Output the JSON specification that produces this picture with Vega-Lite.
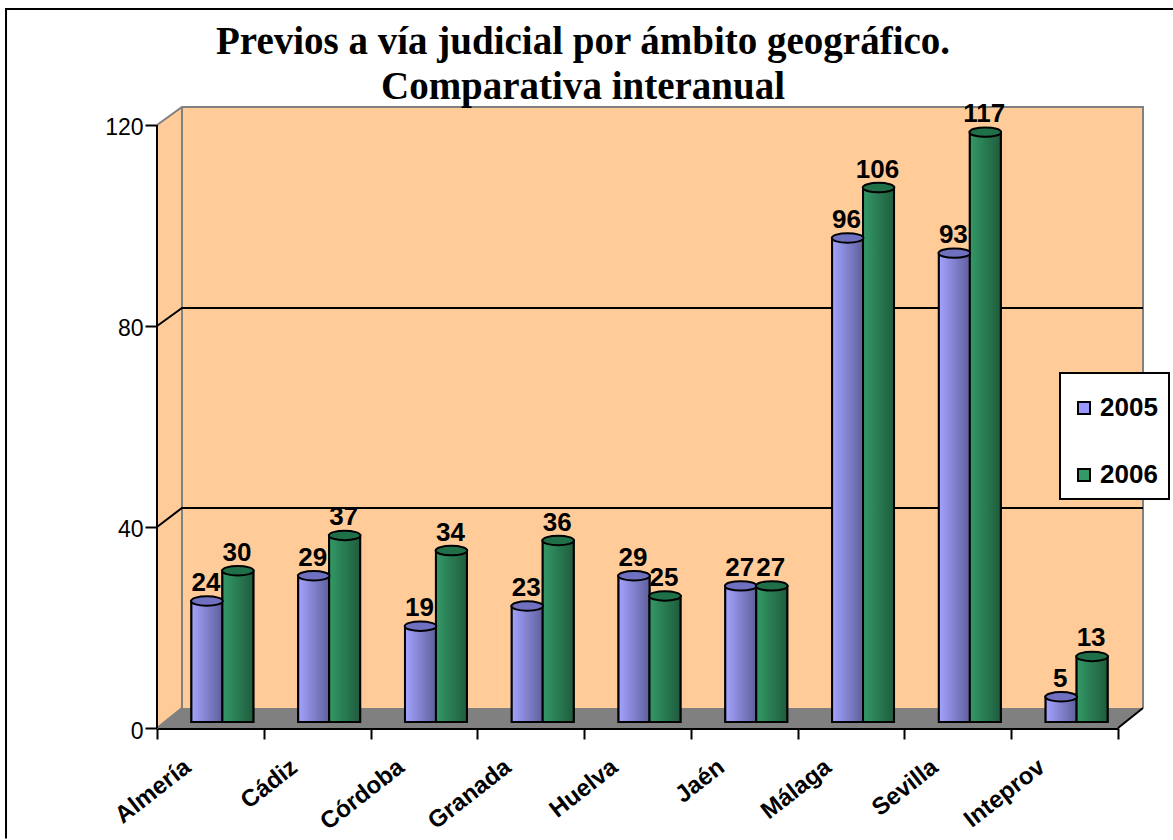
{"$schema":"https://vega.github.io/schema/vega-lite/v6.json","width":986,"height":622,"autosize":"none","padding":{"left":157,"top":106,"right":30,"bottom":112},"background":"white",
"title":{"text":["Previos a vía judicial por ámbito geográfico.","Comparativa interanual"],"font":"Liberation Serif","fontSize":39,"fontWeight":"bold","color":"black","anchor":"middle","frame":"group","dx":-67,"offset":-102,"lineHeight":45},
"datasets":{"bars":[
{"c":"Almería","year":"2005","v":24},{"c":"Almería","year":"2006","v":30},
{"c":"Cádiz","year":"2005","v":29},{"c":"Cádiz","year":"2006","v":37},
{"c":"Córdoba","year":"2005","v":19},{"c":"Córdoba","year":"2006","v":34},
{"c":"Granada","year":"2005","v":23},{"c":"Granada","year":"2006","v":36},
{"c":"Huelva","year":"2005","v":29},{"c":"Huelva","year":"2006","v":25},
{"c":"Jaén","year":"2005","v":27},{"c":"Jaén","year":"2006","v":27},
{"c":"Málaga","year":"2005","v":96},{"c":"Málaga","year":"2006","v":106},
{"c":"Sevilla","year":"2005","v":93},{"c":"Sevilla","year":"2006","v":117},
{"c":"Inteprov","year":"2005","v":5},{"c":"Inteprov","year":"2006","v":13}],
"walls":[
{"p":"wall","x":0,"y":120,"y2":0},{"p":"wall","x":0.234,"y":123.6,"y2":3.98},{"p":"wall","x":9.234,"y":123.6,"y2":3.98},
{"p":"floor","x":0,"y":0,"y2":0},{"p":"floor","x":0.234,"y":3.98,"y2":0},{"p":"floor","x":9,"y":3.98,"y2":0},{"p":"floor","x":9.234,"y":3.98,"y2":3.98}],
"edges":[
{"id":"g40","x":0,"y":40,"o":1},{"id":"g40","x":0.234,"y":43.8,"o":2},{"id":"g40","x":9.234,"y":43.8,"o":3},
{"id":"g80","x":0,"y":80,"o":1},{"id":"g80","x":0.234,"y":83.6,"o":2},{"id":"g80","x":9.234,"y":83.6,"o":3},
{"id":"left","x":0,"y":0,"o":1},{"id":"left","x":0,"y":120,"o":2},
{"id":"fr","x":9,"y":0,"o":1},{"id":"fr","x":9.234,"y":3.98,"o":2},
{"id":"frame","x":-1.414,"y":-22,"o":1},{"id":"frame","x":-1.414,"y":143.1,"o":2},{"id":"frame","x":10.5,"y":143.1,"o":3}],
"gray":[
{"id":"top","x":0,"y":120,"o":1},{"id":"top","x":0.234,"y":123.6,"o":2},{"id":"top","x":9.234,"y":123.6,"o":3},{"id":"top","x":9.234,"y":3.98,"o":4},
{"id":"in","x":0.234,"y":123.6,"o":1},{"id":"in","x":0.234,"y":3.98,"o":2},{"id":"in","x":0,"y":0,"o":3}]},
"layer":[
{"data":{"name":"walls"},"transform":[{"filter":"datum.p==='wall'"}],"mark":{"type":"area","color":"#ffcc99"},
"encoding":{"x":{"field":"x","type":"quantitative","scale":{"domain":[0,9.234],"nice":false,"zero":false},"axis":null},
"y":{"field":"y","type":"quantitative","scale":{"domain":[0,123.78],"nice":false},"axis":{"values":[0,40,80,120],"title":null,"grid":false,"domain":false,"tickSize":12,"tickColor":"black","tickWidth":2,"labelFont":"Liberation Sans","labelFontSize":23,"labelColor":"black","labelPadding":2,"labelOffset":3}},"y2":{"field":"y2"}}},
{"data":{"name":"walls"},"transform":[{"filter":"datum.p==='floor'"}],"mark":{"type":"area","color":"#808080"},
"encoding":{"x":{"field":"x","type":"quantitative","scale":{"domain":[0,9.234],"nice":false,"zero":false},"axis":null},
"y":{"field":"y","type":"quantitative","scale":{"domain":[0,123.78],"nice":false},"axis":null},"y2":{"field":"y2"}}},
{"data":{"name":"gray"},"mark":{"type":"line","color":"#808080","strokeWidth":2,"clip":false},
"encoding":{"x":{"field":"x","type":"quantitative","scale":{"domain":[0,9.234],"nice":false,"zero":false},"axis":null},
"y":{"field":"y","type":"quantitative","scale":{"domain":[0,123.78],"nice":false},"axis":null},"detail":{"field":"id"},"order":{"field":"o"}}},
{"data":{"name":"edges"},"mark":{"type":"line","color":"black","strokeWidth":2,"clip":false},
"encoding":{"x":{"field":"x","type":"quantitative","scale":{"domain":[0,9.234],"nice":false,"zero":false},"axis":null},
"y":{"field":"y","type":"quantitative","scale":{"domain":[0,123.78],"nice":false},"axis":null},"detail":{"field":"id"},"order":{"field":"o"}}},
{"data":{"name":"bars"},"mark":{"type":"tick","opacity":0},
"encoding":{"x":{"field":"c","type":"nominal","sort":null,"scale":{"range":[0,961],"paddingInner":0,"paddingOuter":0},"axis":{"title":null,"bandPosition":0,"tickBand":"extent","tickSize":11,"tickWidth":2,"tickColor":"black","domainColor":"black","domainWidth":3,"labelAngle":-38,"labelAlign":"right","labelBaseline":"middle","labelOffset":-23,"labelPadding":25,"labelFont":"Liberation Sans","labelFontWeight":"bold","labelFontSize":24,"labelColor":"black","labelOverlap":false}},
"y":{"value":622}}},
{"data":{"name":"bars"},"mark":{"type":"bar","stroke":"black","strokeWidth":2},
"encoding":{"x":{"field":"c","type":"nominal","sort":null,"scale":{"range":[12,973],"paddingInner":0.42,"paddingOuter":0.21},"axis":null},
"xOffset":{"field":"year","type":"nominal"},
"y":{"field":"v","type":"quantitative","scale":{"domain":[0,120],"range":[616,11],"nice":false},"axis":null},
"color":{"field":"year","type":"nominal","scale":{"domain":["2005","2006"],"range":["#9999ff","#339966"]},
"legend":{"title":"\u00a0","titleFontSize":1,"titlePadding":10,"orient":"none","legendX":903,"legendY":267,"fillColor":"white","strokeColor":"black","padding":11,"symbolType":"square","symbolSize":144,"symbolStrokeColor":"black","symbolStrokeWidth":2,"labelFont":"Liberation Sans","labelFontWeight":"bold","labelFontSize":26,"labelColor":"black","labelOffset":3,"rowPadding":41}}}},
{"data":{"name":"bars"},"transform":[{"filter":"datum.year==='2005'"}],"mark":{"type":"bar","stroke":"black","strokeWidth":2,"fill":{"gradient":"linear","x1":0,"x2":1,"y1":0,"y2":0,"stops":[{"offset":0,"color":"#a3a3ff"},{"offset":1,"color":"#5f5f9c"}]}},
"encoding":{"x":{"field":"c","type":"nominal","sort":null,"scale":{"domain":["Almería","Cádiz","Córdoba","Granada","Huelva","Jaén","Málaga","Sevilla","Inteprov"],"range":[12,973],"paddingInner":0.42,"paddingOuter":0.21},"axis":null},
"xOffset":{"field":"year","type":"nominal","scale":{"domain":["2005","2006"]}},
"y":{"field":"v","type":"quantitative","scale":{"domain":[0,120],"range":[616,11],"nice":false},"axis":null}}},
{"data":{"name":"bars"},"transform":[{"filter":"datum.year==='2006'"}],"mark":{"type":"bar","stroke":"black","strokeWidth":2,"fill":{"gradient":"linear","x1":0,"x2":1,"y1":0,"y2":0,"stops":[{"offset":0,"color":"#339966"},{"offset":1,"color":"#1f5c3d"}]}},
"encoding":{"x":{"field":"c","type":"nominal","sort":null,"scale":{"domain":["Almería","Cádiz","Córdoba","Granada","Huelva","Jaén","Málaga","Sevilla","Inteprov"],"range":[12,973],"paddingInner":0.42,"paddingOuter":0.21},"axis":null},
"xOffset":{"field":"year","type":"nominal","scale":{"domain":["2005","2006"]}},
"y":{"field":"v","type":"quantitative","scale":{"domain":[0,120],"range":[616,11],"nice":false},"axis":null}}},
{"data":{"name":"bars"},"transform":[{"filter":"datum.year==='2005'"}],"mark":{"type":"point","filled":true,"fill":"#7070c0","stroke":"black","strokeWidth":2,"opacity":1,"size":1000,"shape":"M-1,0A1,0.3,0,1,1,1,0A1,0.3,0,1,1,-1,0Z"},
"encoding":{"x":{"field":"c","type":"nominal","sort":null,"scale":{"domain":["Almería","Cádiz","Córdoba","Granada","Huelva","Jaén","Málaga","Sevilla","Inteprov"],"range":[12,973],"paddingInner":0.42,"paddingOuter":0.21},"axis":null},
"xOffset":{"field":"year","type":"nominal","scale":{"domain":["2005","2006"]}},
"y":{"field":"v","type":"quantitative","scale":{"domain":[0,120],"range":[616,11],"nice":false},"axis":null}}},
{"data":{"name":"bars"},"transform":[{"filter":"datum.year==='2006'"}],"mark":{"type":"point","filled":true,"fill":"#1f7048","stroke":"black","strokeWidth":2,"opacity":1,"size":1000,"shape":"M-1,0A1,0.3,0,1,1,1,0A1,0.3,0,1,1,-1,0Z"},
"encoding":{"x":{"field":"c","type":"nominal","sort":null,"scale":{"domain":["Almería","Cádiz","Córdoba","Granada","Huelva","Jaén","Málaga","Sevilla","Inteprov"],"range":[12,973],"paddingInner":0.42,"paddingOuter":0.21},"axis":null},
"xOffset":{"field":"year","type":"nominal","scale":{"domain":["2005","2006"]}},
"y":{"field":"v","type":"quantitative","scale":{"domain":[0,120],"range":[616,11],"nice":false},"axis":null}}},
{"data":{"name":"bars"},"mark":{"type":"text","font":"Liberation Sans","fontWeight":"bold","fontSize":26,"color":"black","baseline":"bottom","dy":-5,"dx":-1},
"encoding":{"x":{"field":"c","type":"nominal","sort":null,"scale":{"domain":["Almería","Cádiz","Córdoba","Granada","Huelva","Jaén","Málaga","Sevilla","Inteprov"],"range":[12,973],"paddingInner":0.42,"paddingOuter":0.21},"axis":null},
"xOffset":{"field":"year","type":"nominal","scale":{"domain":["2005","2006"]}},
"y":{"field":"v","type":"quantitative","scale":{"domain":[0,120],"range":[616,11],"nice":false},"axis":null},
"text":{"field":"v","type":"quantitative"}}}
],
"resolve":{"scale":{"x":"independent","y":"independent","xOffset":"independent"}},
"config":{"view":{"stroke":null},"legend":{"strokeWidth":2}}}
